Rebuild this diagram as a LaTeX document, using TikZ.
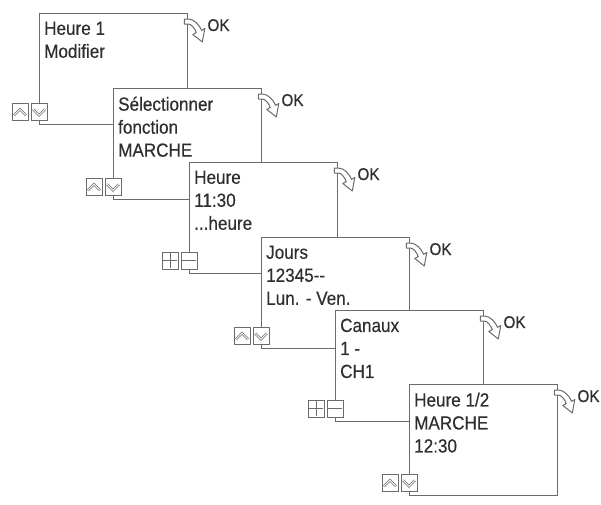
\documentclass[tikz,border=0pt]{standalone}
\usepackage{fontspec}
\setmainfont{Liberation Sans}[FakeStretch=0.9, FakeBold=0.3]
\usetikzlibrary{positioning}
\definecolor{framegray}{gray}{0.42}
\definecolor{inkgray}{gray}{0.18}
\newcommand\screenfont{\fontsize{19}{23}\selectfont}
\newcommand\okfont{\fontsize{17}{20}\selectfont}
\tikzset{
  screen/.style={draw=framegray, line width=1.3pt, fill=white, anchor=north west,
    minimum width=148pt, minimum height=111pt, inner sep=0pt},
  screentext/.style={align=left, inner sep=0pt, text=inkgray, font=\screenfont,
    execute at begin node=\strut},
  oktext/.style={anchor=base west, inner sep=0pt, text=inkgray, font=\okfont},
  key/.style={draw=framegray, line width=1pt, fill=white},
  hollow/.style={draw=framegray, line width=0.7pt, double=white, double distance=0.9pt},
  pics/updown/.style={code={
    \draw[key] (-27,-22) rectangle (-11,-5);
    \draw[key] (-8,-22) rectangle (8,-5);
    \draw[hollow] (-25,-10) -- (-19,-16) -- (-13,-10);
    \draw[hollow] (-6,-16) -- (0,-10) -- (6,-16);
  }},
  pics/plusminus/.style={code={
    \draw[key] (-27,-22) rectangle (-11,-5);
    \draw[key] (-8,-22) rectangle (8,-5);
    \draw[framegray, line width=1pt] (-19,-21) -- (-19,-6) (-26,-13.5) -- (-12,-13.5);
    \draw[framegray, line width=1pt] (-7,-13.5) -- (7,-13.5);
  }},
  pics/okarrow/.style={code={
    \filldraw[fill=white, draw=framegray, line width=1pt, line join=round]
      (-4,6) -- (0,6) .. controls (6,6) and (11,12) .. (13.3,17.3) -- (16.5,15.5)
      -- (14,29) -- (4.5,21.5) -- (8,19.6) .. controls (6.5,15.5) and (3,11) .. (0,11)
      -- (-4,11) -- cycle;
  }},
}
\begin{document}
\begin{tikzpicture}[x=1pt, y=-1pt]
  \useasboundingbox (0,0) rectangle (601,504);

  %---------------- Heure 1 ----------------
  \node[screen] (s1) at (39,13) {};
  \node[screentext, below right=8.5pt and 5pt of s1.north west] (t1) {Heure 1\\Modifier};
  \pic at (s1.south west) {updown};
  \pic at (s1.north east) {okarrow};
  \node[oktext] (ok1) at ([shift={(19,18)}]s1.north east) {OK};

  %---------------- fonction ----------------
  \node[screen] (s2) at (113,88) {};
  \node[screentext, below right=8.5pt and 5pt of s2.north west] (t2) {Sélectionner\\fonction\\MARCHE};
  \pic at (s2.south west) {updown};
  \pic at (s2.north east) {okarrow};
  \node[oktext] (ok2) at ([shift={(19,18)}]s2.north east) {OK};

  %---------------- heure ----------------
  \node[screen] (s3) at (189,162) {};
  \node[screentext, below right=8.5pt and 5pt of s3.north west] (t3) {Heure\\11:30\\...heure};
  \pic at (s3.south west) {plusminus};
  \pic at (s3.north east) {okarrow};
  \node[oktext] (ok3) at ([shift={(19,18)}]s3.north east) {OK};

  %---------------- jours ----------------
  \node[screen] (s4) at (261,237) {};
  \node[screentext, below right=8.5pt and 5pt of s4.north west] (t4) {Jours\\12345-{}-\\Lun. - Ven.};
  \pic at (s4.south west) {updown};
  \pic at (s4.north east) {okarrow};
  \node[oktext] (ok4) at ([shift={(19,18)}]s4.north east) {OK};

  %---------------- canaux ----------------
  \node[screen] (s5) at (335,310) {};
  \node[screentext, below right=8.5pt and 5pt of s5.north west] (t5) {Canaux\\1 -\\CH1};
  \pic at (s5.south west) {plusminus};
  \pic at (s5.north east) {okarrow};
  \node[oktext] (ok5) at ([shift={(19,18)}]s5.north east) {OK};

  %---------------- Heure 1/2 ----------------
  \node[screen] (s6) at (409,384) {};
  \node[screentext, below right=8.5pt and 5pt of s6.north west] (t6) {Heure 1/2\\MARCHE\\12:30};
  \pic at (s6.south west) {updown};
  \pic at (s6.north east) {okarrow};
  \node[oktext] (ok6) at ([shift={(19,18)}]s6.north east) {OK};
\end{tikzpicture}
\end{document}
